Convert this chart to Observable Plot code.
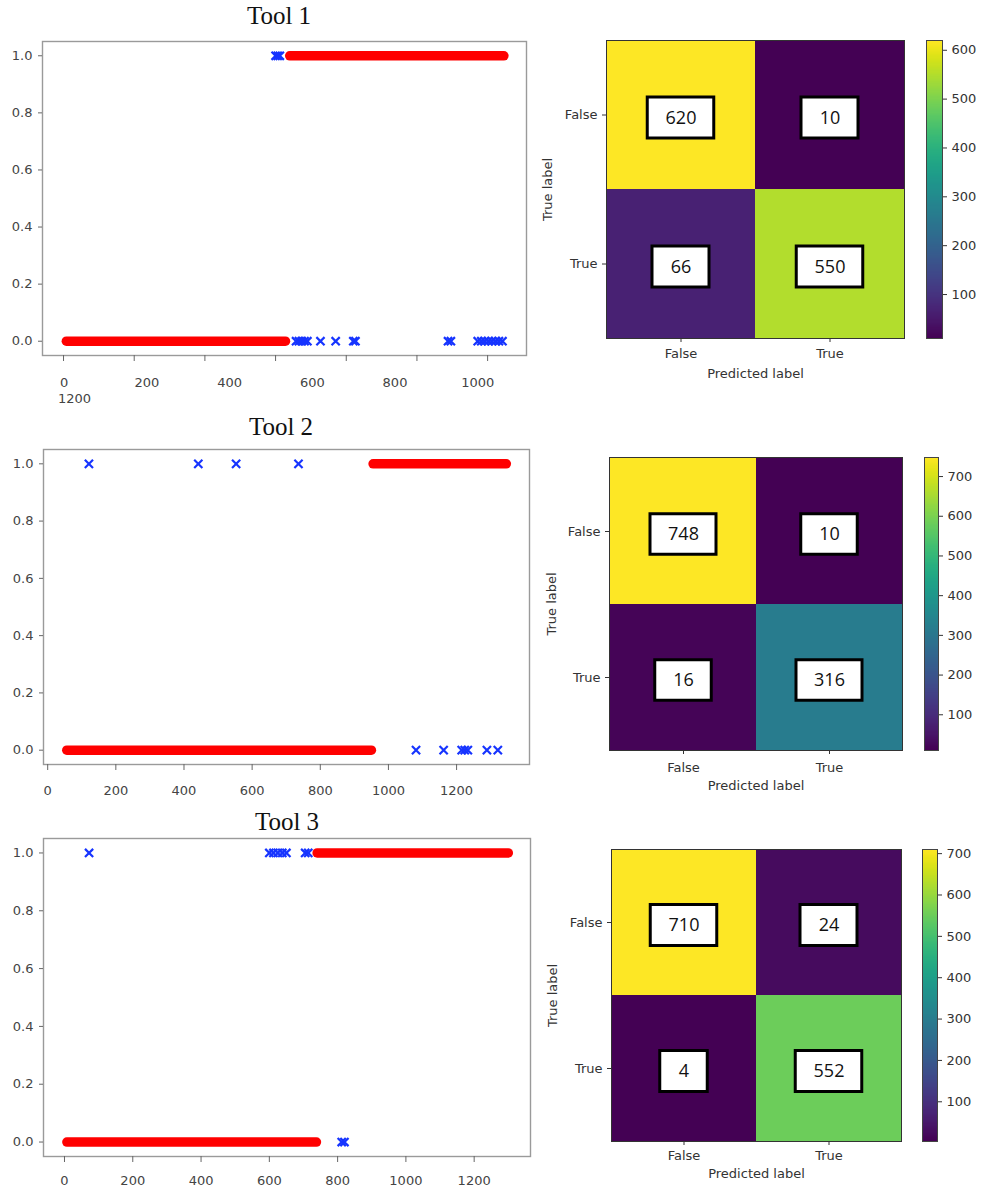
<!DOCTYPE html>
<html>
<head>
<meta charset="utf-8">
<script src="https://cdn.jsdelivr.net/npm/d3@7"></script>
<script src="https://cdn.jsdelivr.net/npm/@observablehq/plot@0.6"></script>
<style>
  html, body { margin: 0; padding: 0; background: #fff; }
  #fig { position: relative; width: 981px; height: 1189px; overflow: hidden; background: #fff; }
  .title { position: absolute; width: 200px; text-align: center; font-family: "Liberation Serif", "Times New Roman", serif; font-size: 25px; line-height: 25px; color: #111; }
  .wrapped { position: absolute; font-family: "DejaVu Sans", sans-serif; font-size: 13px; line-height: 13px; color: #444; white-space: nowrap; }
  svg { position: absolute; }
</style>
</head>
<body>
<div id="fig"></div>
<script>
// ---------------- DATA ----------------
const toolNames = ["Tool 1", "Tool 2", "Tool 3"];
const yTicks = [0, 0.2, 0.4, 0.6, 0.8, 1.0];
const xTicks = [0, 200, 400, 600, 800, 1000, 1200];
const tool1XTickLabels = [0, 200, 400, 600, 800, 1000];
const tool1WrappedLabel = "1200";

// red bands (one per class row): y value, first x, last x
const tool1RedY = [0, 1];
const tool1RedStart = [8, 640];
const tool1RedEnd = [628, 1246];
const tool1BlueTrue = [600, 606, 612];
const tool1BlueFalse = [658, 666, 674, 682, 690, 727, 770, 820, 826, 1088, 1096, 1172, 1182, 1192, 1202, 1212, 1222, 1232, 1242];

const tool2RedY = [0, 1];
const tool2RedStart = [56, 955];
const tool2RedEnd = [950, 1346];
const tool2BlueTrue = [121, 442, 553, 736];
const tool2BlueFalse = [1081, 1162, 1215, 1224, 1233, 1289, 1321];

const tool3RedY = [0, 1];
const tool3RedStart = [7, 740];
const tool3RedEnd = [738, 1300];
const tool3BlueTrue = [72, 600, 612, 625, 638, 650, 705, 714];
const tool3BlueFalse = [812, 820];

// confusion matrices [true label][predicted label]
const matrixLabels = ["False", "True"];
const tool1Matrix = [[620, 10], [66, 550]];
const tool2Matrix = [[748, 10], [16, 316]];
const tool3Matrix = [[710, 24], [4, 552]];
const tool1CbarTicks = [100, 200, 300, 400, 500, 600];
const tool2CbarTicks = [100, 200, 300, 400, 500, 600, 700];
const tool3CbarTicks = [100, 200, 300, 400, 500, 600, 700];

// ---------------- LAYOUT ----------------
const fig = document.getElementById("fig");
const FONT = "DejaVu Sans, sans-serif";

const titleLayout = [
  {cx: 279, top: 3},
  {cx: 281, top: 414},
  {cx: 287, top: 809}
];
const scatterLayout = [
  {frame: [42, 41, 526, 355], xDomain: [-59.5, 1310], pad: 16},
  {frame: [43, 449, 529, 764], xDomain: [-12.3, 1414], pad: 15},
  {frame: [43, 838, 530, 1156], xDomain: [-61.5, 1365], pad: 13}
];
const tool1LabelDomain = [-52.5, 1118];
const heatLayout = [
  {frame: [606, 40, 904, 338], cbar: [926, 942], pad: 6, xLabOff: 39, yLabOff: 64},
  {frame: [609, 457, 902, 750], cbar: [924, 938], pad: 8, xLabOff: 39, yLabOff: 63},
  {frame: [611, 849, 901, 1141], cbar: [922, 937], pad: 5, xLabOff: 36, yLabOff: 64}
];

function place(svg, left, top) {
  svg.style.left = left + "px";
  svg.style.top = top + "px";
  fig.appendChild(svg);
}

function bands(ys, starts, ends) {
  return ys.map((y, i) => ({y, start: starts[i], end: ends[i]}));
}
function blues(trueXs, falseXs) {
  return trueXs.map(x => ({x, y: 1})).concat(falseXs.map(x => ({x, y: 0})));
}

function scatter(L, red, blue, showLabels) {
  const [x0, y0, x1, y1] = L.frame;
  const mT = 10, mR = 12, mB = 40;
  const svg = Plot.plot({
    width: x1 + mR, height: mT + (y1 - y0) + mB,
    marginLeft: x0, marginTop: mT, marginRight: mR, marginBottom: mB,
    style: {fontFamily: FONT, fontSize: "13px", color: "#444", background: "transparent", overflow: "visible"},
    x: {domain: L.xDomain},
    y: {domain: [-0.05, 1.05]},
    marks: [
      Plot.link(red, {x1: "start", x2: "end", y1: "y", y2: "y", stroke: "#ff0000", strokeWidth: 9.5, strokeLinecap: "round"}),
      Plot.dot(blue, {x: "x", y: "y", symbol: "times", stroke: "#1634ff", strokeWidth: 2.2, r: 3.8}),
      Plot.frame({stroke: "#9a9a9a", strokeWidth: 1.4}),
      Plot.axisY({ticks: yTicks, tickFormat: d3.format(".1f"), tickSize: 4, tickPadding: 6, label: null, stroke: "#666"}),
      Plot.axisX({ticks: xTicks, tickFormat: showLabels ? (d => String(d)) : (() => ""), tickSize: 6, tickPadding: L.pad, label: null, stroke: "#666"})
    ]
  });
  place(svg, 0, y0 - mT);
}

function tool1Labels(L) {
  const [x0, y0, x1, y1] = L.frame;
  const mT = 10, mR = 12, mB = 40;
  const svg = Plot.plot({
    width: x1 + mR, height: mT + (y1 - y0) + mB,
    marginLeft: x0, marginTop: mT, marginRight: mR, marginBottom: mB,
    style: {fontFamily: FONT, fontSize: "13px", color: "#444", background: "transparent", overflow: "visible"},
    x: {domain: tool1LabelDomain},
    marks: [
      Plot.axisX({ticks: tool1XTickLabels, tickFormat: d => String(d), tickSize: 0, tickPadding: 6 + L.pad, label: null})
    ]
  });
  place(svg, 0, y0 - mT);
  const w = document.createElement("div");
  w.className = "wrapped";
  w.style.left = "58px"; w.style.top = "392px";
  w.textContent = tool1WrappedLabel;
  fig.appendChild(w);
}

function heatmap(L, matrix, cbarTicks) {
  const [x0, y0, x1, y1] = L.frame;
  const data = [];
  matrixLabels.forEach((t, i) => matrixLabels.forEach((p, j) => data.push({t, p, v: matrix[i][j]})));
  const dom = d3.extent(data, d => d.v);
  const cw = (x1 - x0) / 2, ch = (y1 - y0) / 2;
  const boxH = 41;
  const boxW = n => 38 + 9.5 * n;
  const boxMarks = [1, 2, 3].map(n => Plot.cell(data.filter(d => String(d.v).length === n), {
    x: "p", y: "t", fill: "white", stroke: "#000", strokeWidth: 3,
    insetLeft: (cw - boxW(n)) / 2, insetRight: (cw - boxW(n)) / 2,
    insetTop: (ch - boxH) / 2 + 3, insetBottom: (ch - boxH) / 2 - 3
  }));
  const mL = x0 - 530, mT = 10, mR = 6, mB = 50;
  const svg = Plot.plot({
    width: mL + (x1 - x0) + mR, height: mT + (y1 - y0) + mB,
    marginLeft: mL, marginTop: mT, marginRight: mR, marginBottom: mB,
    style: {fontFamily: FONT, fontSize: "13px", color: "#333", background: "transparent", overflow: "visible"},
    x: {domain: matrixLabels, padding: 0, label: "Predicted label", labelAnchor: "center", labelOffset: L.xLabOff, tickSize: 4, tickPadding: L.pad},
    y: {domain: matrixLabels, padding: 0, label: "True label", labelAnchor: "center", labelOffset: L.yLabOff, tickSize: 4, tickPadding: 5},
    color: {type: "linear", scheme: "viridis", domain: dom},
    marks: [
      Plot.cell(data, {x: "p", y: "t", fill: "v"}),
      Plot.frame({stroke: "#333", strokeWidth: 1}),
      ...boxMarks,
      Plot.text(data, {x: "p", y: "t", text: d => String(d.v), fontSize: 18, fontFamily: "Open Sans, sans-serif", fill: "#111", dy: 3})
    ]
  });
  place(svg, 530, y0 - mT);

  // colorbar
  const [c0, c1] = L.cbar;
  const cmL = 1, cmR = 40, cmT = 10, cmB = 10;
  const cbar = Plot.plot({
    width: cmL + (c1 - c0) + cmR, height: cmT + (y1 - y0) + cmB,
    marginLeft: cmL, marginRight: cmR, marginTop: cmT, marginBottom: cmB,
    style: {fontFamily: FONT, fontSize: "13px", color: "#333", background: "transparent", overflow: "visible"},
    x: {domain: [0, 1], axis: null},
    y: {domain: dom, axis: null},
    color: {type: "linear", scheme: "viridis", domain: dom},
    marks: [
      Plot.raster({x1: 0, x2: 1, y1: dom[0], y2: dom[1], width: 1, height: 300, fill: (x, y) => y, imageRendering: "auto"}),
      Plot.frame({stroke: "#444", strokeWidth: 1}),
      Plot.axisY({anchor: "right", ticks: cbarTicks, tickSize: 4, tickPadding: 5, label: null})
    ]
  });
  place(cbar, c0 - cmL, y0 - cmT);
}

// titles
toolNames.forEach((name, i) => {
  const d = document.createElement("div");
  d.className = "title";
  d.style.left = (titleLayout[i].cx - 100) + "px";
  d.style.top = titleLayout[i].top + "px";
  d.textContent = name;
  fig.appendChild(d);
});

scatter(scatterLayout[0], bands(tool1RedY, tool1RedStart, tool1RedEnd), blues(tool1BlueTrue, tool1BlueFalse), false);
tool1Labels(scatterLayout[0]);
scatter(scatterLayout[1], bands(tool2RedY, tool2RedStart, tool2RedEnd), blues(tool2BlueTrue, tool2BlueFalse), true);
scatter(scatterLayout[2], bands(tool3RedY, tool3RedStart, tool3RedEnd), blues(tool3BlueTrue, tool3BlueFalse), true);

heatmap(heatLayout[0], tool1Matrix, tool1CbarTicks);
heatmap(heatLayout[1], tool2Matrix, tool2CbarTicks);
heatmap(heatLayout[2], tool3Matrix, tool3CbarTicks);
</script>
</body>
</html>
